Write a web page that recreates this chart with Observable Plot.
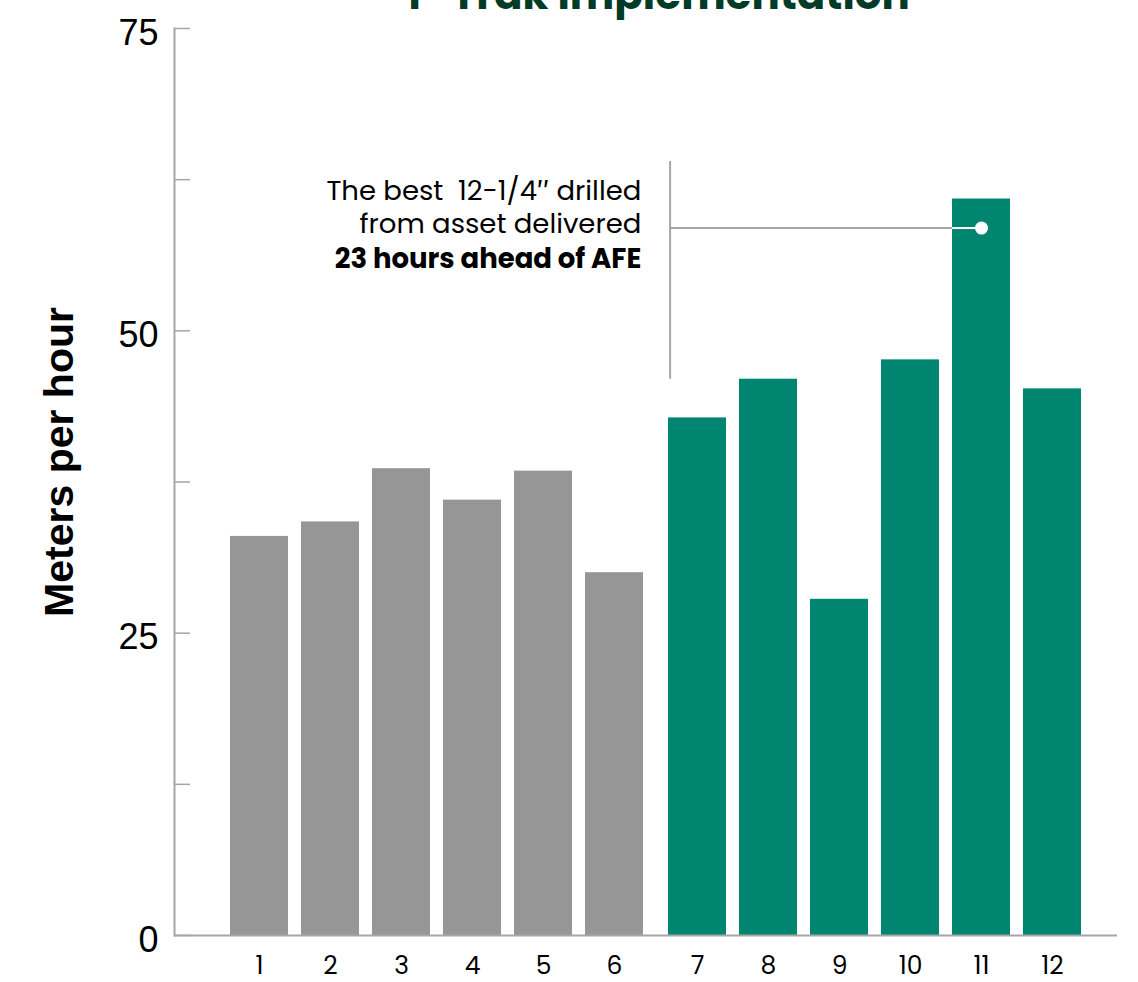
<!DOCTYPE html>
<html>
<head>
<meta charset="utf-8">
<script src="https://cdn.jsdelivr.net/npm/d3@7"></script>
<script src="https://cdn.jsdelivr.net/npm/@observablehq/plot@0.6"></script>
<style>
  html, body { margin: 0; padding: 0; background: #fff; overflow: hidden; }
  #chart svg { overflow: visible; }
</style>
</head>
<body>
<div id="chart"></div>
<script>
// ---- data ----
const wells = ["1", "2", "3", "4", "5", "6", "7", "8", "9", "10", "11", "12"];
const rop = [33.0, 34.2, 38.6, 36.0, 38.4, 30.0, 42.8, 46.0, 27.8, 47.6, 60.9, 45.2];
const phase = ["before", "before", "before", "before", "before", "before",
               "after", "after", "after", "after", "after", "after"];
const yTicks = [0, 12.5, 25, 37.5, 50, 62.5, 75];
const yLabels = [0, 25, 50, 75];
const title = "T-Trak Implementation";
const yTitle = "Meters per hour";
const noteLines = ["The best  12-1/4\u2033 drilled", "from asset delivered", "23 hours ahead of AFE"];
const callout = [{from: "7", to: "11", anchor: "6", value: 58.5, low: 46, high: 64}];

const data = wells.map((w, i) => ({well: w, rop: rop[i], phase: phase[i]}));
const beforeWells = wells.filter((w, i) => phase[i] === "before");
const afterWells = wells.filter((w, i) => phase[i] === "after");

const gray = "#969696";
const green = "#008571";
const lineGray = "#a6a6a6";
const sans = "Poppins, Inter, sans-serif";
const helv = "'Liberation Sans', Arial, sans-serif";
const shift = 6;
const halfBand = 28.8;
const noteSize = 27.5;

const chart = Plot.plot({
  width: 1138,
  height: 982,
  marginTop: 28,
  marginBottom: 47,
  marginLeft: 174,
  marginRight: 21,
  style: {background: "white", overflow: "visible"},
  x: {type: "band", domain: wells, paddingInner: 0.19, paddingOuter: 0.7265, align: 0.59, label: null},
  y: {domain: [0, 75], label: null},
  marks: [
    Plot.barY(data, {filter: d => d.phase === "before", x: "well", y: "rop", fill: gray, dx: -shift}),
    Plot.barY(data, {filter: d => d.phase === "after", x: "well", y: "rop", fill: green, dx: shift}),
    Plot.frame({anchor: "left", stroke: lineGray, strokeWidth: 2}),
    Plot.ruleY([0], {stroke: lineGray, strokeWidth: 2}),
    Plot.axisY({ticks: yTicks, tickSize: -16, tickFormat: () => "", stroke: lineGray, strokeWidth: 1.5, label: null}),
    Plot.axisY({ticks: yLabels, tickSize: 0, tickPadding: 16, dy: 4.5, fontSize: 36, fontFamily: helv, fill: "#000", label: null}),
    Plot.axisX({ticks: beforeWells, tickSize: 0, tickPadding: 20.5, dx: -shift, fontSize: 25, fontFamily: sans, fill: "#000", label: null}),
    Plot.axisX({ticks: afterWells, tickSize: 0, tickPadding: 20.5, dx: shift, fontSize: 25, fontFamily: sans, fill: "#000", label: null}),
    // callout
    Plot.ruleX(callout, {x: "from", y1: "low", y2: "high", dx: shift - halfBand + 1.4, stroke: lineGray, strokeWidth: 2}),
    Plot.ruleY(callout, {x1: "from", x2: "to", y: "value", dx: shift, insetLeft: 1.4, insetRight: halfBand, stroke: lineGray, strokeWidth: 2}),
    Plot.ruleY(callout, {x1: "to", x2: "to", y: "value", dx: shift, insetRight: halfBand, stroke: "white", strokeWidth: 2}),
    Plot.dot(callout, {x: "to", y: "value", dx: shift, r: 6.5, fill: "white", stroke: null}),
    Plot.text(callout, {x: "anchor", y: "value", text: () => noteLines[0], dx: -shift + halfBand - 2, dy: -27.6, lineAnchor: "bottom", textAnchor: "end", fontSize: noteSize, fontFamily: sans, fontWeight: 400, fill: "#000"}),
    Plot.text(callout, {x: "anchor", y: "value", text: () => noteLines[1], dx: -shift + halfBand - 2, dy: 5.4, lineAnchor: "bottom", textAnchor: "end", fontSize: noteSize, fontFamily: sans, fontWeight: 400, fill: "#000"}),
    Plot.text(callout, {x: "anchor", y: "value", text: () => noteLines[2], dx: -shift + halfBand - 2, dy: 40.4, lineAnchor: "bottom", textAnchor: "end", fontSize: noteSize, fontFamily: sans, fontWeight: 700, fill: "#000"}),
    // titles
    Plot.text([title], {text: d => d, frameAnchor: "top", lineAnchor: "bottom", dy: -20, dx: 10, fontSize: 42, fontWeight: 700, fontFamily: sans, fill: "#003b27"}),
    Plot.text([yTitle], {text: d => d, frameAnchor: "left", textAnchor: "middle", rotate: -90, dx: -115, dy: -20, fontSize: 41, fontWeight: 700, fontFamily: helv, fill: "#000"})
  ]
});
document.getElementById("chart").appendChild(chart);
</script>
</body>
</html>
